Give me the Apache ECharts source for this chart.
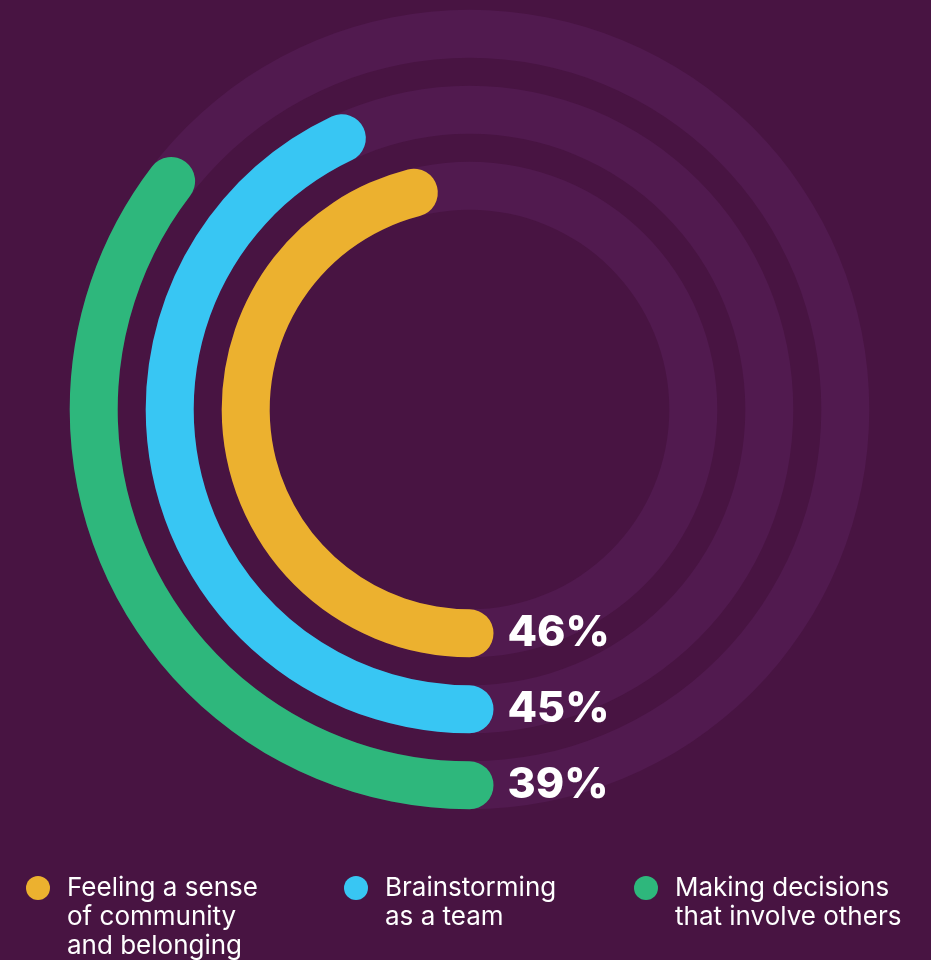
<!DOCTYPE html>
<html>
<head>
<meta charset="utf-8">
<script src="https://cdn.jsdelivr.net/npm/echarts@6/dist/echarts.min.js"></script>
<style>
  html, body { margin: 0; padding: 0; background: #481442; }
  #chart { width: 931px; height: 960px; }
</style>
</head>
<body>
<div id="chart"></div>
<script>
// ---- data ----
const categories = ['Feeling a sense of community and belonging', 'Brainstorming as a team', 'Making decisions that involve others'];
const legendLines = [
  ['Feeling a sense', 'of community', 'and belonging'],
  ['Brainstorming', 'as a team'],
  ['Making decisions', 'that involve others']
];
// arc sweep as drawn in the picture (% of a full circle)
const arcValues = [46, 43, 35.4];
// printed percentages
const labelTexts = ['46%', '45%', '39%'];
const colors = ['#ECB12F', '#38C6F3', '#2EB77C'];

// ---- layout ----
const BG = '#481442';
const TRACK = '#511a4f';
const legendDotX = [38, 356, 646];
const legendTextX = [67, 385, 675];
const legendY = 888;

const chart = echarts.init(document.getElementById('chart'), null, { renderer: 'canvas' });

const graphics = [];
legendLines.forEach((lines, i) => {
  graphics.push({
    type: 'circle',
    shape: { cx: legendDotX[i], cy: legendY, r: 12 },
    style: { fill: colors[i] },
    silent: true
  });
  graphics.push({
    type: 'text',
    x: legendTextX[i],
    y: legendY - 14,
    style: {
      text: lines.join('\n'),
      fill: '#ffffff',
      font: '400 26px Inter',
      lineHeight: 29,
      verticalAlign: 'top',
      align: 'left'
    },
    silent: true
  });
});

const option = {
  backgroundColor: BG,
  animation: false,
  polar: { center: [469.5, 409.5], radius: [185.8, 413.8] },
  angleAxis: {
    type: 'value', min: 0, max: 100, startAngle: 270, clockwise: true,
    show: false, axisLine: { show: false }, splitLine: { show: false }, axisLabel: { show: false }, axisTick: { show: false }
  },
  radiusAxis: {
    type: 'category', data: categories,
    axisLine: { show: false }, axisTick: { show: false }, axisLabel: { show: false }, splitLine: { show: false }
  },
  series: [{
    type: 'bar',
    coordinateSystem: 'polar',
    barWidth: 48,
    roundCap: true,
    showBackground: true,
    backgroundStyle: { color: TRACK },
    data: arcValues.map((v, i) => ({ value: v, itemStyle: { color: colors[i] } })),
    label: {
      show: true,
      position: 'start',
      distance: 14,
      rotate: 0,
      align: 'left',
      verticalAlign: 'middle',
      formatter: p => labelTexts[p.dataIndex],
      color: '#ffffff',
      fontFamily: 'Inter',
      fontWeight: 800,
      fontSize: 43
    }
  }],
  graphic: graphics
};
chart.setOption(option);
</script>
</body>
</html>
